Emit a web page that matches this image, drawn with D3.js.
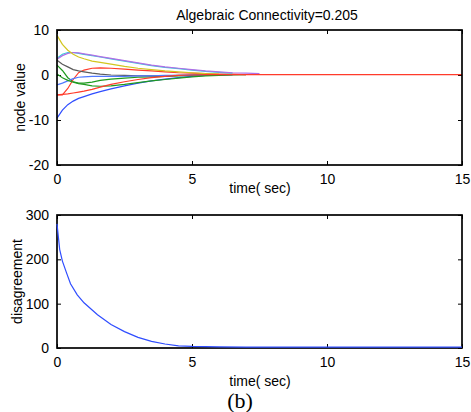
<!DOCTYPE html>
<html>
<head>
<meta charset="utf-8">
<script src="https://cdn.jsdelivr.net/npm/d3@7"></script>
<style>
  body { margin: 0; background: #fff; }
  text { font-family: "Liberation Sans", Arial, sans-serif; fill: #000; }
</style>
</head>
<body>
<div id="chart"></div>
<script>
// time grid shared by the node trajectories (sec)
var nodeTime = [0, 0.2, 0.4, 0.6, 0.8, 1.0, 1.3, 1.6, 2.0, 2.5, 3.0, 3.5, 4.0, 4.5, 5.0, 5.5, 6.0, 6.5, 7.0, 7.5, 15];

// node values, one array per node (some stop early, as in the figure)
var blue1   = [-9.6, -7.8, -6.6, -5.8, -5.2, -4.8, -4.2, -3.7, -3.1, -2.4, -1.8, -1.3, -0.9, -0.6, -0.3, -0.1, 0.0, 0.1];
var green1  = [2.2, 1.0, -0.6, -1.5, -1.8, -1.8, -1.6, -1.2, -0.9, -0.7, -0.5, -0.4, -0.3, -0.2, -0.1, 0.0, 0.1];
var red1    = [-4.4, -4.4, -3.0, -1.0, 0.5, 1.1, 1.5, 1.6, 1.5, 1.3, 1.1, 0.9, 0.7, 0.5, 0.4, 0.3, 0.2, 0.2, 0.1];
var cyan1   = [3.7, 4.6, 5.0, 5.0, 4.8, 4.6, 4.3, 4.0, 3.6, 3.1, 2.6, 2.1, 1.7, 1.4, 1.1, 0.8, 0.6, 0.4];
var magenta1= [3.5, 4.3, 4.8, 5.0, 4.9, 4.7, 4.4, 4.1, 3.7, 3.2, 2.7, 2.2, 1.8, 1.5, 1.2, 0.9, 0.7, 0.5, 0.4, 0.3];
var yellow1 = [8.8, 6.8, 5.5, 4.6, 4.0, 3.6, 3.1, 2.8, 2.4, 1.9, 1.5, 1.2, 0.9, 0.7, 0.5, 0.3, 0.2];
var black1  = [3.3, 2.4, 1.8, 1.2, 0.9, 0.7, 0.4, 0.2, 0.0, -0.1, -0.2, -0.2, -0.2, -0.1, 0.0, 0.1, 0.1, 0.1];
var blue2   = [-2.2, -1.8, -1.3, -0.8, -0.5, -0.4, -0.3, -0.3, -0.3, -0.3, -0.2, -0.2, -0.1, -0.1, 0.0, 0.1];
var green2  = [0.2, -0.6, -1.2, -1.6, -1.9, -2.1, -2.4, -2.5, -2.4, -2.1, -1.7, -1.3, -1.0, -0.7, -0.4, -0.2, -0.1, 0.0, 0.1];
var red2    = [-4.4, -4.3, -4.2, -4.0, -3.8, -3.6, -3.2, -2.7, -2.1, -1.5, -1.0, -0.6, -0.3, -0.1, 0.0, 0.1, 0.1, 0.1, 0.1, 0.1, 0.1];

var nodeSeries = [blue1, green1, red1, cyan1, magenta1, yellow1, black1, blue2, green2, red2];
var nodeColors = ["#2f4dff", "#1f9a1f", "#ff3b2b", "#35cfd6", "#b06ee6", "#d2c61e", "#5a5a5a", "#4f79ff", "#1f9a1f", "#ff3b2b"];

// disagreement curve
var disTime  = [0, 0.1, 0.2, 0.35, 0.5, 0.75, 1, 1.5, 2, 2.5, 3, 3.5, 4, 4.5, 5, 6, 7, 8, 10, 12, 15];
var disValue = [280, 222, 196, 170, 145, 120, 102, 75, 53, 37, 24, 15, 9, 5, 3.5, 2.5, 2, 2, 2, 2, 2];

var xTicks = [0, 5, 10, 15];
var nodeTicks = [-20, -10, 0, 10];
var disTicks = [0, 100, 200, 300];

var svgWidth = 471, svgHeight = 412;
var svg = d3.select("#chart").append("svg")
  .attr("width", svgWidth)
  .attr("height", svgHeight);

var left = 57, right = 462;

function drawPanel(top, bottom, yDomain, yTicks, yLabel, yLabelX) {
  var x = d3.scaleLinear().domain([0, 15]).range([left, right]);
  var y = d3.scaleLinear().domain(yDomain).range([bottom, top]);

  var g = svg.append("g");

  // inward ticks on all four sides, matlab style
  var tl = 4;
  g.append("g").attr("transform", `translate(0,${bottom})`)
    .call(d3.axisBottom(x).tickValues(xTicks).tickSize(-tl).tickPadding(tl + 5).tickFormat(d3.format("d")));
  g.append("g").attr("transform", `translate(0,${top})`)
    .call(d3.axisTop(x).tickValues(xTicks).tickSize(-tl).tickFormat(""));
  g.append("g").attr("transform", `translate(${left},0)`)
    .call(d3.axisLeft(y).tickValues(yTicks).tickSize(-tl).tickPadding(tl + 4).tickFormat(d => String(d)));
  g.append("g").attr("transform", `translate(${right},0)`)
    .call(d3.axisRight(y).tickValues(yTicks).tickSize(-tl).tickFormat(""));

  g.selectAll(".domain").remove();
  g.selectAll(".tick line").attr("stroke", "#000").attr("stroke-width", 1);
  g.selectAll(".tick text")
    .style("font-family", "'Liberation Sans', Arial, sans-serif")
    .style("font-size", "14px")
    .attr("fill", "#000");

  g.append("text")
    .attr("transform", `translate(${yLabelX}, ${(top + bottom) / 2}) rotate(-90)`)
    .attr("text-anchor", "middle")
    .style("font-size", "14px")
    .text(yLabel);

  return {x: x, y: y, g: g, top: top, bottom: bottom};
}

function frame(p) {
  svg.append("rect")
    .attr("x", left).attr("y", p.top)
    .attr("width", right - left).attr("height", p.bottom - p.top)
    .attr("fill", "none").attr("stroke", "#000").attr("stroke-width", 1.7);
}

// top panel: node values
var p1 = drawPanel(30, 165, [-20, 10], nodeTicks, "node value", 25);
nodeSeries.forEach(function(vals, i) {
  var line = d3.line()
    .x((d, j) => p1.x(nodeTime[j]))
    .y(d => p1.y(d));
  svg.append("path")
    .datum(vals)
    .attr("d", line)
    .attr("fill", "none")
    .attr("stroke", nodeColors[i])
    .attr("stroke-width", 1.2);
});
frame(p1);

svg.append("text")
  .attr("x", 267).attr("y", 20)
  .attr("text-anchor", "middle")
  .style("font-size", "14px")
  .text("Algebraic Connectivity=0.205");

svg.append("text")
  .attr("x", 260).attr("y", 193)
  .attr("text-anchor", "middle")
  .style("font-size", "14px")
  .text("time( sec)");

// bottom panel: disagreement
var p2 = drawPanel(215, 348, [0, 300], disTicks, "disagreement", 22);
frame(p2);
svg.append("path")
  .datum(disValue)
  .attr("d", d3.line().x((d, j) => p2.x(disTime[j])).y(d => p2.y(d)))
  .attr("fill", "none")
  .attr("stroke", "#2f4dff")
  .attr("stroke-width", 1.2);

svg.append("text")
  .attr("x", 260).attr("y", 386)
  .attr("text-anchor", "middle")
  .style("font-size", "14px")
  .text("time( sec)");

svg.append("text")
  .attr("x", 240).attr("y", 408)
  .attr("text-anchor", "middle")
  .style("font-family", "'Liberation Serif', 'DejaVu Serif', serif")
  .style("font-size", "22px")
  .text("(b)");
</script>
</body>
</html>
